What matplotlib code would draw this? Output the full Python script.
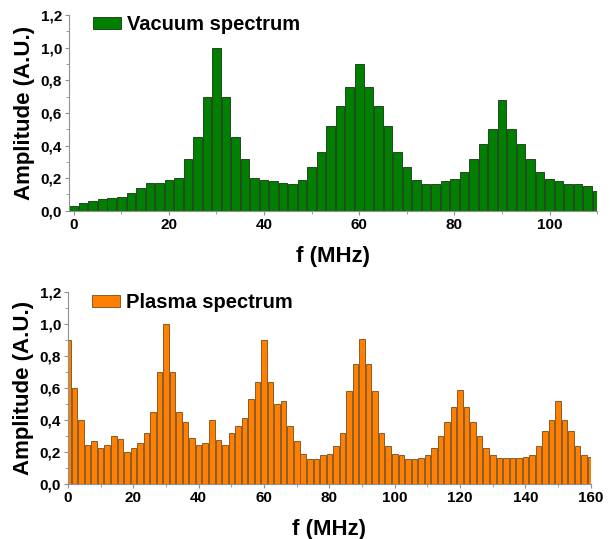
import matplotlib.pyplot as plt
from matplotlib.ticker import MultipleLocator, FuncFormatter

plt.rcParams['font.family'] = ['Liberation Sans', 'DejaVu Sans']
plt.rcParams['font.weight'] = 'bold'

# vacuum spectrum: bars every 2 MHz from 0 to 110
vac_freq = list(range(0, 112, 2))
vac_amp = [0.03, 0.05, 0.06, 0.07, 0.08, 0.086, 0.11, 0.14, 0.17, 0.17,
           0.186, 0.20, 0.32, 0.454, 0.70, 1.00, 0.70, 0.454, 0.32, 0.20,
           0.186, 0.18, 0.17, 0.166, 0.186, 0.27, 0.36, 0.52, 0.64, 0.76,
           0.90, 0.76, 0.64, 0.52, 0.36, 0.27, 0.19, 0.166, 0.166, 0.184,
           0.194, 0.24, 0.32, 0.41, 0.50, 0.68, 0.50, 0.41, 0.32, 0.24,
           0.194, 0.184, 0.166, 0.164, 0.153, 0.12]

# plasma spectrum: bars every 2 MHz from 0 to 160
pla_freq = list(range(0, 162, 2))
pla_amp = [0.90, 0.60, 0.40, 0.245, 0.267, 0.227, 0.245, 0.30, 0.28, 0.20,
           0.227, 0.256, 0.32, 0.45, 0.70, 1.00, 0.70, 0.45, 0.385, 0.285,
           0.245, 0.254, 0.40, 0.275, 0.245, 0.32, 0.36, 0.41, 0.53, 0.64,
           0.90, 0.64, 0.50, 0.52, 0.36, 0.267, 0.185, 0.158, 0.158, 0.18,
           0.19, 0.24, 0.32, 0.58, 0.75, 0.91, 0.75, 0.58, 0.32, 0.24,
           0.19, 0.18, 0.158, 0.154, 0.165, 0.183, 0.227, 0.30, 0.39, 0.48,
           0.59, 0.48, 0.39, 0.30, 0.227, 0.183, 0.162, 0.162, 0.162, 0.162,
           0.17, 0.183, 0.24, 0.33, 0.40, 0.52, 0.40, 0.33, 0.24, 0.183,
           0.17]

fig = plt.figure(figsize=(6.1, 5.39), dpi=100)
ax1 = fig.add_axes([0.113, 0.609, 0.866, 0.363])
ax2 = fig.add_axes([0.1115, 0.102, 0.857, 0.356])

comma = FuncFormatter(lambda v, p: f'{v:.1f}'.replace('.', ','))


def style_axis(ax):
    for s in ['top', 'right']:
        ax.spines[s].set_visible(False)
    for s in ['left', 'bottom']:
        ax.spines[s].set_color('#909090')
        ax.spines[s].set_linewidth(0.8)
    ax.set_ylim(0, 1.2)
    ax.yaxis.set_major_locator(MultipleLocator(0.2))
    ax.yaxis.set_minor_locator(MultipleLocator(0.1))
    ax.yaxis.set_major_formatter(comma)
    ax.xaxis.set_major_locator(MultipleLocator(20))
    ax.xaxis.set_minor_locator(MultipleLocator(10))
    ax.tick_params(which='both', color='#909090', labelsize=11, pad=2)
    ax.tick_params(which='major', length=3)
    ax.tick_params(which='minor', length=2)
    ax.set_ylabel('Amplitude (A.U.)', fontsize=16, fontweight='bold', labelpad=4)
    ax.set_xlabel('f (MHz)', fontsize=16, fontweight='bold', labelpad=10)


ax1.bar(vac_freq, vac_amp, width=1.8, color='#007f00', edgecolor='#1e4a1e',
        linewidth=0.7, label='Vacuum spectrum')
ax1.set_xlim(-1, 110)
style_axis(ax1)

ax2.bar(pla_freq, pla_amp, width=1.7, color='#ff8000', edgecolor='#8a5a2a',
        linewidth=0.7, label='Plasma spectrum')
ax2.set_xlim(0, 160)
style_axis(ax2)

for ax, ytop in ((ax1, 1.04), (ax2, 1.035)):
    ax.legend(loc='upper left', bbox_to_anchor=(0.03, ytop), frameon=False,
              prop={'size': 14.5, 'weight': 'bold'}, handlelength=1.4,
              handleheight=0.55, handletextpad=0.3, borderaxespad=0)

fig.savefig('out.png', dpi=100)
